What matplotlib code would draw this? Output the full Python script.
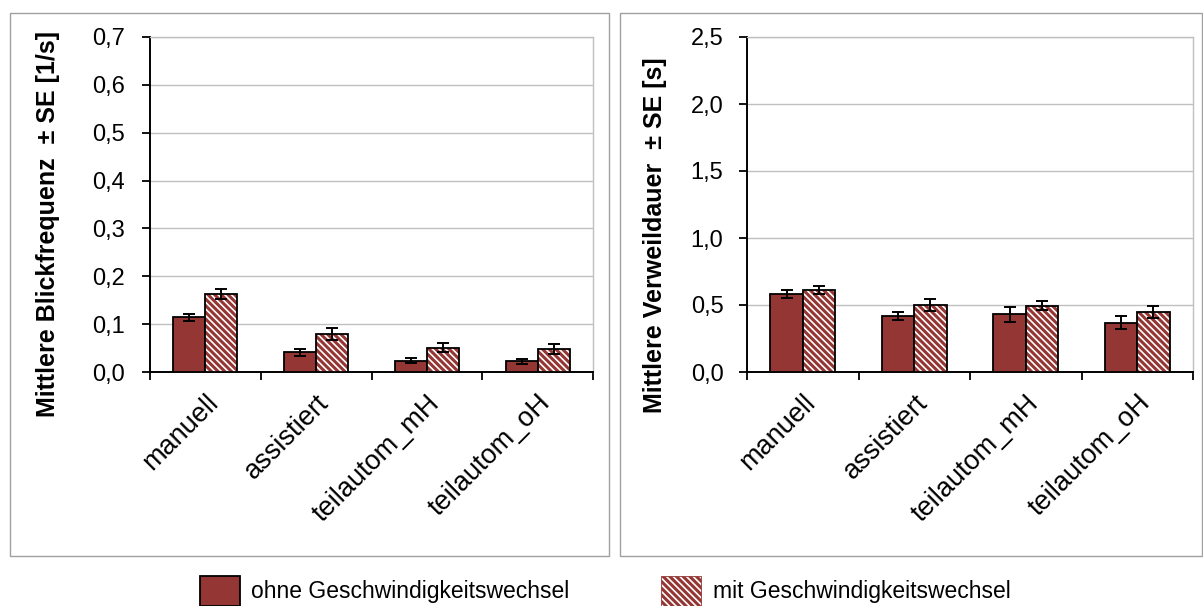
import matplotlib
matplotlib.use("Agg")
import matplotlib.pyplot as plt
from matplotlib.patches import Patch, Rectangle
from matplotlib.transforms import ScaledTranslation
import numpy as np

plt.rcParams['font.family'] = ['Liberation Sans', 'DejaVu Sans']
plt.rcParams['hatch.linewidth'] = 2.2

categories = ["manuell", "assistiert", "teilautom_mH", "teilautom_oH"]
series_names = ["ohne Geschwindigkeitswechsel", "mit Geschwindigkeitswechsel"]

freq_ohne = [0.114, 0.041, 0.024, 0.022]
freq_ohne_se = [0.008, 0.007, 0.006, 0.006]
freq_mit = [0.163, 0.079, 0.051, 0.048]
freq_mit_se = [0.010, 0.013, 0.009, 0.010]

dur_ohne = [0.580, 0.416, 0.431, 0.369]
dur_ohne_se = [0.030, 0.030, 0.057, 0.051]
dur_mit = [0.612, 0.500, 0.496, 0.448]
dur_mit_se = [0.028, 0.045, 0.037, 0.046]

left_ticks = [0.0, 0.1, 0.2, 0.3, 0.4, 0.5, 0.6, 0.7]
right_ticks = [0.0, 0.5, 1.0, 1.5, 2.0, 2.5]

RED = '#943634'
HATCH = '\\\\\\\\\\'
W, H = 1203, 606
fig = plt.figure(figsize=(W / 100, H / 100), dpi=100)

# panel frames
fig.add_artist(Rectangle((10 / W, 1 - 556 / H), 599 / W, 543 / H, transform=fig.transFigure,
                         fill=False, edgecolor='#a0a0a0', lw=1.0))
fig.add_artist(Rectangle((620 / W, 1 - 556 / H), 582 / W, 543 / H, transform=fig.transFigure,
                         fill=False, edgecolor='#a0a0a0', lw=1.0))

def panel(rect, ohne, ohne_se, mit, mit_se, ticks, ylabel, label_xy, ypad):
    ax = fig.add_axes(rect)
    n = len(categories)
    x = np.arange(n)
    bw = 0.29
    ax.bar(x - bw / 2, ohne, bw, color=RED, edgecolor='black', lw=1.3, zorder=3)
    ax.bar(x + bw / 2, mit, bw, color='white', edgecolor=RED, hatch=HATCH, lw=0, zorder=3)
    ax.bar(x + bw / 2, mit, bw, fill=False, edgecolor='black', lw=1.3, zorder=4)
    ax.errorbar(x - bw / 2, ohne, yerr=ohne_se, fmt='none', ecolor='black', elinewidth=1.4,
                capsize=4.5, capthick=1.4, zorder=5)
    ax.errorbar(x + bw / 2, mit, yerr=mit_se, fmt='none', ecolor='black', elinewidth=1.4,
                capsize=4.5, capthick=1.4, zorder=5)
    ax.set_xlim(-0.5, n - 0.5)
    ax.set_ylim(ticks[0], ticks[-1])
    ax.set_yticks(ticks)
    ax.set_yticklabels([f"{t:.1f}".replace('.', ',') for t in ticks], fontsize=17)
    ax.yaxis.grid(True, color='#c0c0c0', lw=1.0, zorder=0)
    ax.set_axisbelow(True)
    ax.set_xticks(np.arange(n + 1) - 0.5)
    ax.set_xticklabels([])
    ax.set_xticks(x, minor=True)
    ax.set_xticklabels(categories, minor=True, rotation=45, ha='right', va='top',
                       rotation_mode='anchor', fontsize=19.5)
    off = ScaledTranslation(5 / 100, 0, fig.dpi_scale_trans)
    for lab in ax.get_xticklabels(minor=True):
        lab.set_transform(lab.get_transform() + off)
    ax.tick_params(axis='x', which='minor', length=0, pad=13)
    ax.tick_params(axis='x', which='major', length=6, width=1.3, direction='out')
    ax.tick_params(axis='y', length=6, width=1.3, direction='out', pad=ypad)
    for s in ['left', 'bottom']:
        ax.spines[s].set_color('black')
        ax.spines[s].set_linewidth(1.4)
    for s in ['top', 'right']:
        ax.spines[s].set_color('#c0c0c0')
        ax.spines[s].set_linewidth(1.0)
    ax.set_ylabel(ylabel, fontsize=18, fontweight='bold')
    ax.yaxis.set_label_coords(*label_xy)
    return ax

ax1 = panel([150 / W, 1 - 372 / H, 443 / W, 335 / H], freq_ohne, freq_ohne_se, freq_mit, freq_mit_se,
            left_ticks, "Mittlere Blickfrequenz  \u00b1 SE [1/s]", (-0.203, 0.443), 12)
ax2 = panel([747 / W, 1 - 372 / H, 446 / W, 335 / H], dur_ohne, dur_ohne_se, dur_mit, dur_mit_se,
            right_ticks, "Mittlere Verweildauer  \u00b1 SE [s]", (-0.179, 0.409), 11)

handles = [Patch(facecolor=RED, edgecolor='black', lw=1.3),
           Patch(facecolor='white', edgecolor=RED, hatch=HATCH, lw=0.6)]
fig.legend(handles, series_names, loc='center', bbox_to_anchor=(605 / W, 1 - 591 / H), ncol=2,
           frameon=False, fontsize=16.5, handlelength=1.75, handleheight=1.7, columnspacing=4.0,
           handletextpad=0.5, borderpad=0, borderaxespad=0)

fig.savefig('out.png', dpi=100)
